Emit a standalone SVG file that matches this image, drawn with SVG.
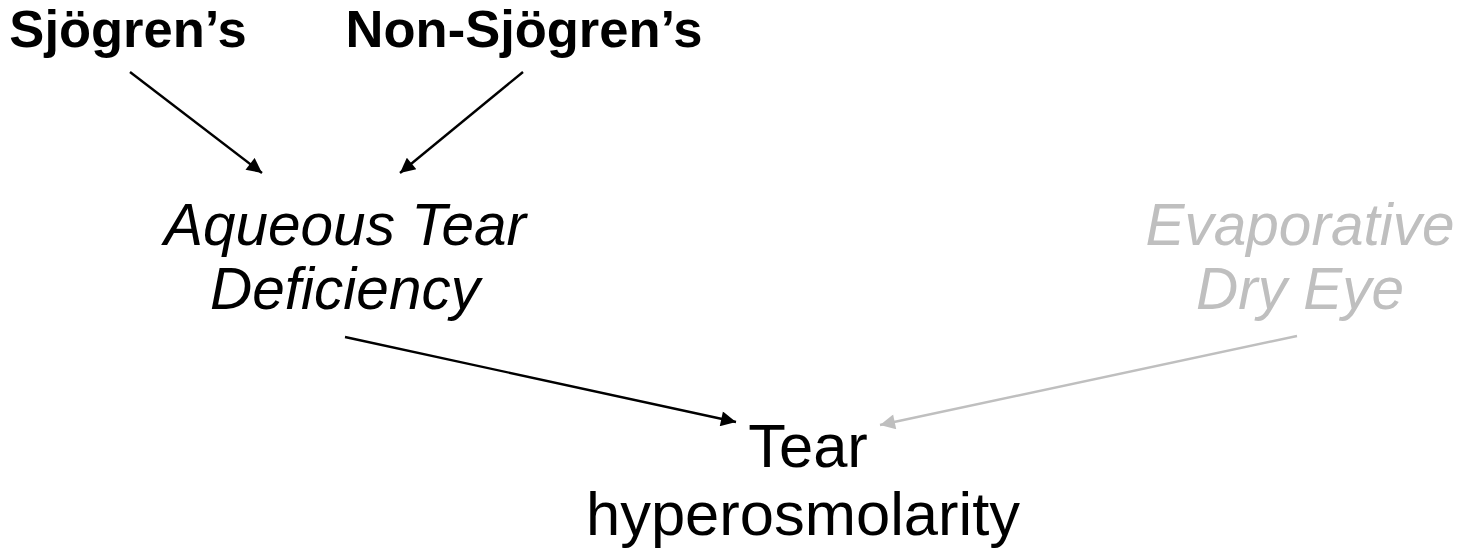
<svg xmlns="http://www.w3.org/2000/svg" width="1460" height="556" viewBox="0 0 1460 556">
  <style>
    text { font-family: "Liberation Sans", Arial, sans-serif; text-anchor: middle; }
    .bold { font-weight: bold; font-size: 52.5px; fill: #000; }
    .cause { font-style: italic; font-size: 58.5px; fill: #000; }
    .faded { font-style: italic; font-size: 58.5px; fill: #bfbfbf; }
    .result { font-size: 61.5px; fill: #000; }
    .edge { stroke: #000; stroke-width: 2.4; fill: none; marker-end: url(#arrowBlack); }
    .edge-faded { stroke: #bfbfbf; stroke-width: 2.4; fill: none; marker-end: url(#arrowGray); }
  </style>
  <defs>
    <marker id="arrowBlack" viewBox="0 0 10 10" refX="10" refY="5" markerWidth="17" markerHeight="15" markerUnits="userSpaceOnUse" orient="auto">
      <path d="M0,0 L10,5 L0,10 z" fill="#000"/>
    </marker>
    <marker id="arrowGray" viewBox="0 0 10 10" refX="10" refY="5" markerWidth="17" markerHeight="15" markerUnits="userSpaceOnUse" orient="auto">
      <path d="M0,0 L10,5 L0,10 z" fill="#bfbfbf"/>
    </marker>
  </defs>
  <rect width="1460" height="556" fill="#fff"/>

  <g id="connectors">
    <line class="edge" x1="130" y1="72" x2="262" y2="173"/>
    <line class="edge" x1="523" y1="72" x2="400" y2="173"/>
    <line class="edge" x1="345" y1="337" x2="736" y2="422"/>
    <line class="edge-faded" x1="1297" y1="336" x2="880" y2="425"/>
  </g>

  <g id="sjogrens">
    <text class="bold" x="128" y="47">Sjögren’s</text>
  </g>
  <g id="non-sjogrens">
    <text class="bold" x="524" y="47">Non-Sjögren’s</text>
  </g>
  <g id="aqueous-deficiency">
    <text class="cause" x="345" y="245">Aqueous Tear</text>
    <text class="cause" x="345" y="309">Deficiency</text>
  </g>
  <g id="evaporative">
    <text class="faded" x="1300" y="245">Evaporative</text>
    <text class="faded" x="1300" y="309">Dry Eye</text>
  </g>
  <g id="hyperosmolarity">
    <text class="result" x="808" y="467">Tear</text>
    <text class="result" x="803" y="535">hyperosmolarity</text>
  </g>
</svg>
